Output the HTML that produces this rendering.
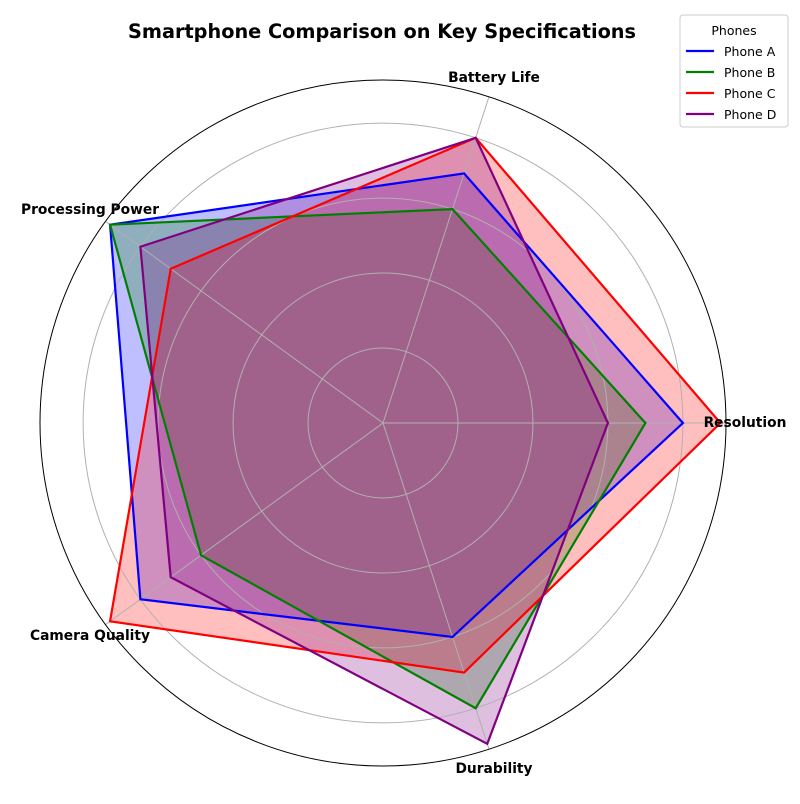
<!DOCTYPE html>
<html><head><meta charset="utf-8"><style>
body{margin:0;background:#fff;font-family:"DejaVu Sans","Liberation Sans",sans-serif}
</style></head><body>
<svg id="chart" width="800" height="800" xmlns="http://www.w3.org/2000/svg" font-family="DejaVu Sans, Liberation Sans, sans-serif">
<text x="382" y="38" text-anchor="middle" font-size="19.3" font-weight="bold">Smartphone Comparison on Key Specifications</text>
<g id="fills"></g><g id="grid"></g><g id="lines"></g><g id="labels"></g>
<g>
<rect x="680" y="15" width="108" height="112" fill="#fff" stroke="#ccc" rx="3"/>
<text x="734" y="35" text-anchor="middle" font-size="12.5">Phones</text>
<g id="legend-items"></g>
</g>
</svg>
<script>
const categories=["Resolution","Battery Life","Processing Power","Camera Quality","Durability"];
const phones=["Phone A","Phone B","Phone C","Phone D"];
const colors=["blue","green","red","purple"];
const phoneA=[8,7,9,8,6];
const phoneB=[7,6,9,6,8];
const phoneC=[9,8,7,9,7];
const phoneD=[6,8,8,7,9];
const gridTicks=[2,4,6,8];
const series=[phoneA,phoneB,phoneC,phoneD];
const cx=383,cy=423,R=343,rmax=9.15;
const NS="http://www.w3.org/2000/svg";
function r(v){return v/rmax*R;}
function ang(i){return i*2*Math.PI/categories.length;}
function pt(i,v){return [cx+r(v)*Math.cos(ang(i)),cy-r(v)*Math.sin(ang(i))];}
function mk(tag,attrs,parent){const e=document.createElementNS(NS,tag);for(const k in attrs)e.setAttribute(k,attrs[k]);parent.appendChild(e);return e;}
const grid=document.getElementById('grid');
gridTicks.forEach(t=>{const c=mk('circle',{cx:cx,cy:cy,r:r(t),fill:'none',stroke:'#b0b0b0','stroke-width':1},grid);

});
categories.forEach((c,i)=>{const p=pt(i,rmax);const l=mk('line',{x1:cx,y1:cy,x2:p[0],y2:p[1],stroke:'#b0b0b0','stroke-width':1},grid);

});
const oc=mk('circle',{cx:cx,cy:cy,r:R,fill:'none',stroke:'#000','stroke-width':1},grid);


const fg=document.getElementById('fills');
const lgp=document.getElementById('lines');
series.forEach((s,k)=>{const pts=s.map((v,i)=>pt(i,v).join(',')).join(' ');
const f=mk('polygon',{points:pts,fill:colors[k],'fill-opacity':0.25,stroke:'none'},fg);

});
series.forEach((s,k)=>{const pts=s.map((v,i)=>pt(i,v).join(',')).join(' ');
const l=mk('polygon',{points:pts,fill:'none',stroke:colors[k],'stroke-width':2.2},lgp);

});
const lg=document.getElementById('labels');
const labelPos=[[745,427],[494,82],[90,214],[90,640],[494,773]];
categories.forEach((c,i)=>{const t=mk('text',{x:labelPos[i][0],y:labelPos[i][1],'text-anchor':'middle','font-size':13.8,'font-weight':'bold'},lg);t.textContent=c;

});
const li=document.getElementById('legend-items');
phones.forEach((p,k)=>{const y=51+k*21;
const g=mk('g',{},li);


mk('line',{x1:686,y1:y,x2:714,y2:y,stroke:colors[k],'stroke-width':2.2},g);
const t=mk('text',{x:724,y:y+5,'font-size':12.5},g);t.textContent=p;});
</script>
</body></html>
